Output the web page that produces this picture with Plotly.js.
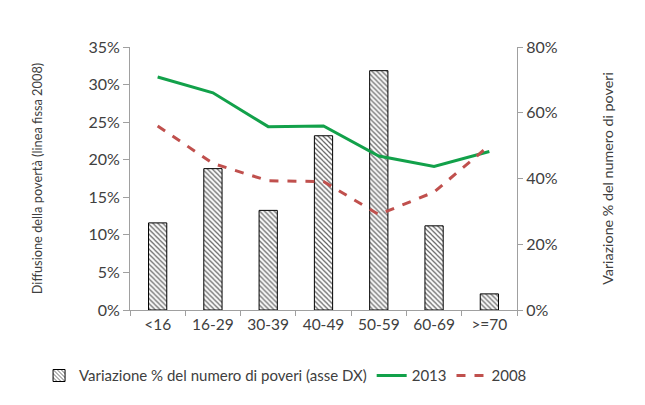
<!DOCTYPE html>
<html>
<head>
<meta charset="utf-8">
<script src="https://cdn.plot.ly/plotly-3.0.1.min.js"></script>
<style>html,body{margin:0;padding:0;background:#fff;}#chart{width:645px;height:405px;}</style>
</head>
<body>
<div id="chart"></div>
<script>
const categories = ['<16', '16-29', '30-39', '40-49', '50-59', '60-69', '>=70'];
const variazionePoveri = [26.5, 43.0, 30.3, 53.0, 72.8, 25.6, 4.9];
const diffusione2013 = [31.0, 28.9, 24.4, 24.5, 20.5, 19.1, 21.1];
const diffusione2008 = [24.5, 19.5, 17.2, 17.1, 12.7, 15.7, 21.9];
const leftTicks = [0, 5, 10, 15, 20, 25, 30, 35];
const rightTicks = [0, 20, 40, 60, 80];
const leftTickText = leftTicks.map(v => v + '%');
const rightTickText = rightTicks.map(v => v + '%');

const FONT = 'Lato, sans-serif';
const TXT = '#404040';
const AX = '#a0a0a0';

const traces = [
  {
    type: 'bar', x: categories, y: variazionePoveri, yaxis: 'y',
    name: 'Variazione % del numero di poveri (asse DX)',
    width: 0.33,
    marker: {
      color: '#ffffff',
      line: {color: '#000000', width: 1},
      pattern: {shape: '\\', fgcolor: '#666666', bgcolor: '#ffffff', size: 3.5, solidity: 0.35}
    },
    hoverinfo: 'skip'
  },
  {
    type: 'scatter', mode: 'lines', x: categories, y: diffusione2013, yaxis: 'y2',
    name: '2013', line: {color: '#12a14a', width: 3}
  },
  {
    type: 'scatter', mode: 'lines', x: categories, y: diffusione2008, yaxis: 'y2',
    name: '2008', line: {color: '#c0504d', width: 3, dash: 'dash'}
  }
];

const layout = {
  width: 645, height: 405,
  margin: {l: 130, r: 128, t: 47, b: 95},
  paper_bgcolor: '#ffffff', plot_bgcolor: '#ffffff',
  font: {family: FONT, color: TXT, size: 16},
  showlegend: true,
  xaxis: {
    type: 'category', showgrid: false, zeroline: false,
    showline: true, linecolor: AX, linewidth: 1,
    ticks: 'outside', ticklen: 5, tickcolor: AX,
    tickson: 'boundaries',
    tickfont: {family: FONT, size: 15.5, color: TXT},
    range: [-0.5, 6.5]
  },
  yaxis: {
    side: 'right', range: [0, 80], tickmode: 'array', tickvals: rightTicks, ticktext: rightTickText,
    showgrid: false, zeroline: false,
    showline: true, linecolor: AX, linewidth: 1,
    ticks: 'outside', ticklen: 5, tickcolor: AX,
    tickfont: {family: FONT, size: 16, color: TXT},
    title: {text: 'Variazione % del numero di poveri', font: {family: FONT, size: 14.3, color: TXT}, standoff: 46}
  },
  yaxis2: {
    side: 'left', overlaying: 'y', range: [0, 35], tickmode: 'array', tickvals: leftTicks, ticktext: leftTickText,
    showgrid: false, zeroline: false,
    showline: true, linecolor: AX, linewidth: 1,
    ticks: 'outside', ticklen: 6, tickcolor: AX,
    tickfont: {family: FONT, size: 16, color: TXT},
    title: {text: 'Diffusione della povertà (linea fissa 2008)', font: {family: FONT, size: 12.8, color: TXT}, standoff: 42}
  },
  legend: {
    orientation: 'h', xref: 'paper', yref: 'paper',
    x: -0.235, xanchor: 'left', y: -0.25, yanchor: 'middle',
    font: {family: FONT, size: 15, color: TXT},
    traceorder: 'normal'
  }
};

Plotly.newPlot('chart', traces, layout, {displayModeBar: false, staticPlot: true});
</script>
</body>
</html>
